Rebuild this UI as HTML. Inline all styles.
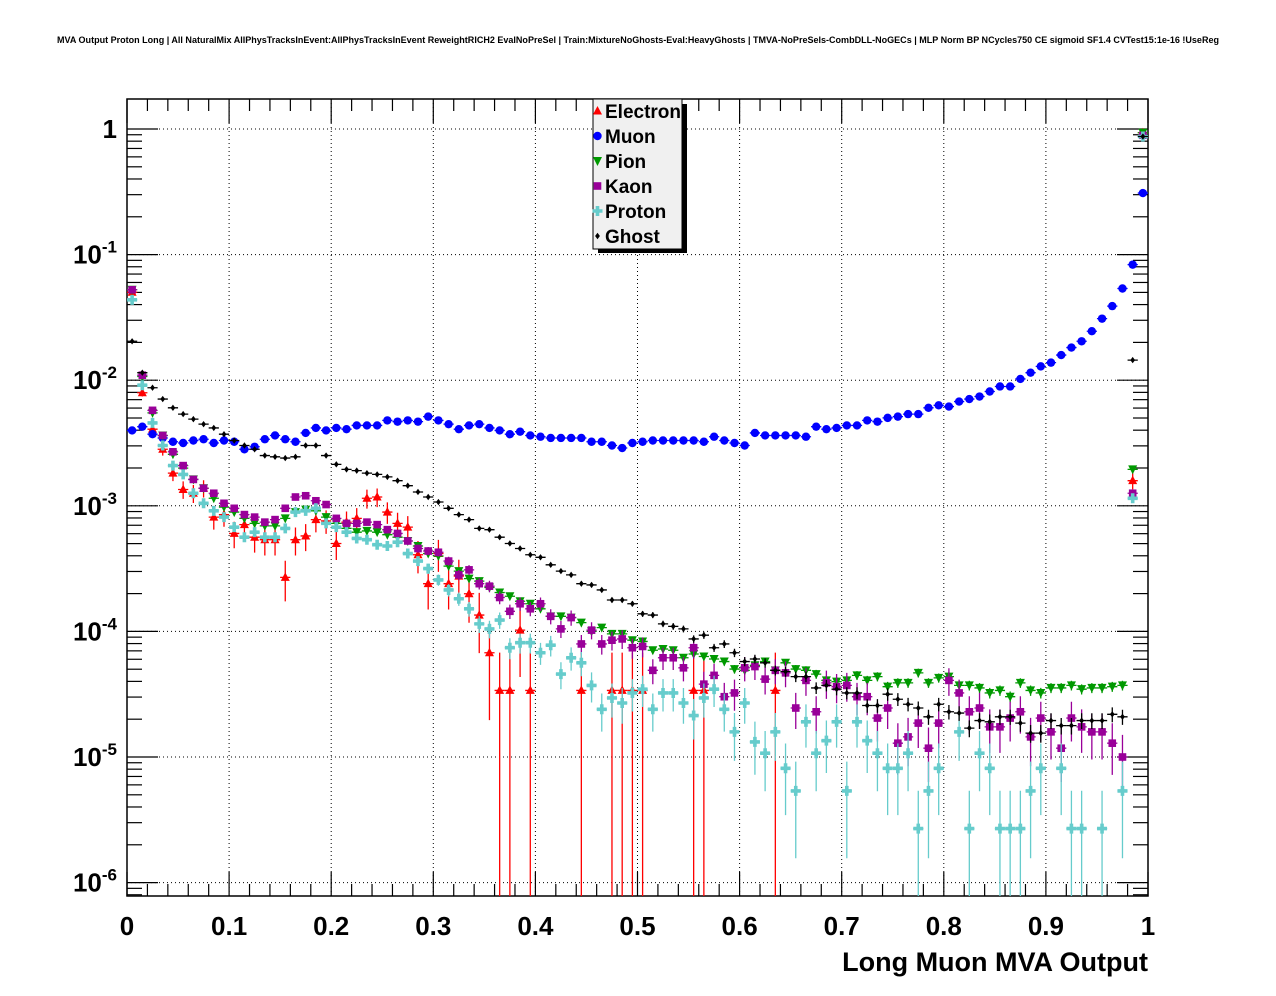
<!DOCTYPE html>
<html><head><meta charset="utf-8"><style>
html,body{margin:0;padding:0;background:#fff;}
svg{display:block;font-family:"Liberation Sans",Arial,sans-serif;}
</style></head><body>
<svg id="chart" width="1276" height="996" viewBox="0 0 1276 996" xmlns="http://www.w3.org/2000/svg">
<rect x="0" y="0" width="1276" height="996" fill="#fff"/>
<text x="57" y="43" font-size="9" font-weight="bold" textLength="1162" lengthAdjust="spacingAndGlyphs">MVA Output Proton Long | All NaturalMix AllPhysTracksInEvent:AllPhysTracksInEvent ReweightRICH2 EvalNoPreSel | Train:MixtureNoGhosts-Eval:HeavyGhosts | TMVA-NoPreSels-CombDLL-NoGECs | MLP Norm BP NCycles750 CE sigmoid SF1.4 CVTest15:1e-16 !UseReg</text>
<g id="grid"></g>
<g id="axes"></g>
<g id="series"></g>
<text x="1148" y="971" font-size="27" font-weight="bold" text-anchor="end">Long Muon MVA Output</text>
<g id="legend"></g>
</svg>
<script>
// Data: log10 of normalised bin content, 100 bins over [0,1]
const xTickLabels = ["0","0.1","0.2","0.3","0.4","0.5","0.6","0.7","0.8","0.9","1"];
const yDecades = [0,-1,-2,-3,-4,-5,-6];
const seriesNames = ["Electron","Muon","Pion","Kaon","Proton","Ghost"];
const electronLog = [-1.30,-2.10,-2.39,-2.55,-2.74,-2.87,-2.90,-2.86,-3.09,-3.07,
-3.22,-3.15,-3.25,-3.27,-3.27,-3.57,-3.27,-3.24,-3.11,-3.12,
-3.30,-3.13,-3.10,-2.94,-2.93,-3.05,-3.14,-3.17,-3.39,-3.62,
-3.38,-3.62,-3.56,-3.70,-3.87,-4.17,-4.47,-4.47,-3.99,-4.47,
null,null,null,null,-4.47,null,null,-4.47,-4.47,-4.47,
-4.47,null,null,null,null,-4.47,-4.47,null,null,null,
null,null,null,-4.47,null,null,null,null,null,null,
null,null,null,null,null,null,null,null,null,null,
null,null,null,null,null,null,null,null,null,null,
null,null,null,null,null,null,null,null,-2.80,-0.03];
const muonLog = [-2.40,-2.37,-2.43,-2.46,-2.49,-2.50,-2.48,-2.47,-2.50,-2.48,
-2.49,-2.55,-2.53,-2.47,-2.44,-2.47,-2.49,-2.42,-2.38,-2.40,
-2.38,-2.39,-2.36,-2.36,-2.36,-2.32,-2.33,-2.32,-2.33,-2.29,
-2.32,-2.35,-2.39,-2.36,-2.35,-2.38,-2.40,-2.43,-2.41,-2.44,
-2.45,-2.46,-2.46,-2.46,-2.46,-2.49,-2.49,-2.52,-2.54,-2.50,
-2.49,-2.48,-2.48,-2.48,-2.48,-2.48,-2.49,-2.45,-2.48,-2.50,
-2.52,-2.42,-2.44,-2.44,-2.44,-2.44,-2.45,-2.37,-2.39,-2.38,
-2.36,-2.36,-2.32,-2.33,-2.30,-2.29,-2.27,-2.27,-2.22,-2.20,
-2.21,-2.17,-2.15,-2.13,-2.09,-2.05,-2.05,-1.99,-1.94,-1.89,
-1.86,-1.80,-1.74,-1.69,-1.61,-1.51,-1.41,-1.27,-1.08,-0.51];
const pionLog = [-1.28,-1.97,-2.26,-2.44,-2.59,-2.70,-2.79,-2.86,-2.94,-3.01,
-3.05,-3.10,-3.14,-3.16,-3.16,-3.10,-3.05,-3.03,-3.04,-3.09,
-3.14,-3.18,-3.21,-3.20,-3.21,-3.23,-3.25,-3.28,-3.32,-3.38,
-3.40,-3.48,-3.52,-3.58,-3.60,-3.65,-3.69,-3.72,-3.76,-3.78,
-3.82,-3.88,-3.88,-3.89,-3.93,-4.00,-3.97,-4.02,-4.02,-4.07,
-4.08,-4.15,-4.14,-4.15,-4.21,-4.18,-4.20,-4.22,-4.24,-4.30,
-4.31,-4.27,-4.24,-4.31,-4.25,-4.30,-4.31,-4.34,-4.39,-4.40,
-4.39,-4.35,-4.39,-4.36,-4.44,-4.41,-4.41,-4.33,-4.41,-4.37,
-4.36,-4.43,-4.43,-4.45,-4.49,-4.47,-4.52,-4.41,-4.47,-4.49,
-4.45,-4.45,-4.43,-4.46,-4.45,-4.45,-4.44,-4.43,-2.71,-0.03];
const kaonLog = [-1.28,-1.96,-2.24,-2.44,-2.57,-2.68,-2.79,-2.86,-2.90,-2.98,
-3.02,-3.07,-3.09,-3.13,-3.11,-3.02,-2.93,-2.92,-2.96,-2.99,
-3.10,-3.14,-3.14,-3.13,-3.15,-3.19,-3.22,-3.28,-3.34,-3.36,
-3.37,-3.44,-3.55,-3.51,-3.62,-3.64,-3.73,-3.84,-3.78,-3.82,
-3.78,-3.88,-3.98,-3.89,-4.10,-3.99,-4.10,-4.07,-4.06,-4.13,
-4.12,-4.31,-4.21,-4.21,-4.29,-4.13,-4.42,-4.35,-4.52,-4.49,
-4.29,-4.28,-4.38,-4.31,-4.33,-4.61,-4.39,-4.64,-4.41,-4.44,
-4.43,-4.52,-4.52,-4.69,-4.61,-4.89,-4.84,-4.73,-4.93,-4.73,
-4.39,-4.49,-4.64,-4.61,-4.76,-4.76,-4.69,-4.64,-4.84,-4.69,
-4.80,-4.93,-4.69,-4.76,-4.80,-4.80,-4.89,-5.00,-2.90,-0.05];
const protonLog = [-1.36,-2.04,-2.34,-2.52,-2.68,-2.75,-2.90,-2.98,-3.04,-3.09,
-3.17,-3.25,-3.21,-3.25,-3.25,-3.18,-3.05,-3.04,-3.02,-3.14,
-3.17,-3.21,-3.26,-3.27,-3.31,-3.32,-3.29,-3.38,-3.44,-3.50,
-3.59,-3.67,-3.74,-3.82,-3.94,-3.98,-3.91,-4.13,-4.09,-4.09,
-4.17,-4.11,-4.34,-4.21,-4.25,-4.43,-4.62,-4.53,-4.57,-4.49,
-4.46,-4.62,-4.49,-4.49,-4.57,-4.67,-4.53,-4.46,-4.62,-4.80,
-4.57,-4.88,-4.97,-4.80,-5.09,-5.27,-4.72,-4.97,-4.87,-4.72,
-5.27,-4.72,-4.87,-4.97,-5.09,-5.09,-4.97,-5.57,-5.27,-5.09,
null,-4.80,-5.57,-4.97,-5.09,-5.57,-5.57,-5.57,-5.27,-5.09,
null,-5.09,-5.57,-5.57,null,-5.57,null,-5.27,-2.94,-0.06];
const ghostLog = [-1.69,-1.94,-2.06,-2.15,-2.22,-2.27,-2.31,-2.35,-2.38,-2.43,
-2.48,-2.52,-2.55,-2.60,-2.61,-2.62,-2.61,-2.52,-2.52,-2.60,
-2.67,-2.71,-2.72,-2.74,-2.75,-2.77,-2.80,-2.84,-2.89,-2.93,
-2.97,-3.02,-3.07,-3.11,-3.18,-3.19,-3.25,-3.30,-3.34,-3.39,
-3.41,-3.47,-3.52,-3.55,-3.62,-3.63,-3.67,-3.75,-3.75,-3.78,
-3.86,-3.87,-3.94,-3.96,-3.98,-4.06,-4.03,-4.13,-4.10,-4.17,
-4.24,-4.22,-4.25,-4.31,-4.32,-4.36,-4.36,-4.45,-4.43,-4.46,
-4.49,-4.49,-4.59,-4.59,-4.50,-4.54,-4.58,-4.61,-4.68,-4.58,
-4.64,-4.65,-4.77,-4.71,-4.72,-4.68,-4.68,-4.73,-4.81,-4.81,
-4.71,-4.75,-4.75,-4.71,-4.71,-4.71,-4.66,-4.68,-1.84,-0.06];
// per-entry weights (value of a single entry), used for error bars
const entryWeights = [3.4e-5, 1e-8, 3e-7, 2.5e-6, 2.7e-6, 4e-7];

const NS = "http://www.w3.org/2000/svg";
const X0 = 127, X1 = 1148, Y0 = 99, Y1 = 896;
const xPix = v => X0 + v * (X1 - X0);
const yPix = e => 129 - e * 125.6;
function mk(tag, attrs, parent){ const el = document.createElementNS(NS, tag); for (const k in attrs) el.setAttribute(k, attrs[k]); parent.appendChild(el); return el; }

const grid = document.getElementById('grid');
const axes = document.getElementById('axes');
const seriesG = document.getElementById('series');
const legend = document.getElementById('legend');

// grid
for (let i = 1; i < xTickLabels.length - 1; i++) {
  const l = mk('line', {x1: xPix(i/10), x2: xPix(i/10), y1: Y0, y2: Y1, stroke: '#000', 'stroke-width': 1, 'stroke-dasharray': '1,3'}, grid);
  
  
}
yDecades.forEach(d => {
  const l = mk('line', {x1: X0, x2: X1, y1: yPix(d), y2: yPix(d), stroke: '#000', 'stroke-width': 1, 'stroke-dasharray': '1,3'}, grid);
  
  
});

// frame
const fr = mk('rect', {x: X0, y: Y0, width: X1 - X0, height: Y1 - Y0, fill: 'none', stroke: '#000', 'stroke-width': 1.5}, axes);



// x ticks
for (let i = 0; i <= 50; i++) {
  const x = xPix(i / 50), len = (i % 5 === 0) ? 24 : 12;
  mk('line', {x1: x, x2: x, y1: Y1, y2: Y1 - len, stroke: '#000', 'stroke-width': 1.2}, axes);
  mk('line', {x1: x, x2: x, y1: Y0, y2: Y0 + len, stroke: '#000', 'stroke-width': 1.2}, axes);
}
xTickLabels.forEach((t, i) => {
  const tx = mk('text', {x: xPix(i/10), y: 935, 'font-size': 26, 'font-weight': 'bold', 'text-anchor': 'middle'}, axes);
  tx.textContent = t;
  
  
});
// y ticks
for (let d = 0; d >= -7; d--) {
  for (let m = 1; m <= 9; m++) {
    const e = d + Math.log10(m), y = yPix(e);
    if (y < Y0 || y > Y1) continue;
    const len = m === 1 ? 31 : 15;
    mk('line', {x1: X0, x2: X0 + len, y1: y, y2: y, stroke: '#000', 'stroke-width': 1.2}, axes);
    mk('line', {x1: X1, x2: X1 - len, y1: y, y2: y, stroke: '#000', 'stroke-width': 1.2}, axes);
  }
}
yDecades.forEach(d => {
  const y = yPix(d);
  const tx = mk('text', {x: 117, y: y + 9, 'font-size': 26, 'font-weight': 'bold', 'text-anchor': 'end'}, axes);
  
  
  if (d === 0) { tx.textContent = '1'; }
  else {
    const b = document.createElementNS(NS, 'tspan'); b.textContent = '10'; tx.appendChild(b);
    const s = document.createElementNS(NS, 'tspan'); s.setAttribute('dy', -11); s.setAttribute('font-size', 17); s.textContent = String(d); tx.appendChild(s);
  }
});

// markers
const colors = ['#ff0000', '#0000ff', '#009900', '#990099', '#66cccc', '#000000'];
function marker(kind, x, y, c, parent) {
  let el;
  if (kind === 0) el = mk('polygon', {points: `${x},${y-5} ${x-4.5},${y+3.5} ${x+4.5},${y+3.5}`, fill: c}, parent);
  else if (kind === 1) el = mk('circle', {cx: x, cy: y, r: 4.2, fill: c}, parent);
  else if (kind === 2) el = mk('polygon', {points: `${x-4.5},${y-4} ${x+4.5},${y-4} ${x},${y+5}`, fill: c}, parent);
  else if (kind === 3) el = mk('rect', {x: x-3.8, y: y-3.8, width: 7.6, height: 7.6, fill: c}, parent);
  else if (kind === 4) el = mk('path', {d: `M${x-1.8},${y-5}h3.6v3.2h3.2v3.6h-3.2v3.2h-3.6v-3.2h-3.2v-3.6h3.2z`, fill: c}, parent);
  else el = mk('path', {d: `M${x},${y-3.2}L${x+2.4},${y}L${x},${y+3.2}L${x-2.4},${y}z`, fill: c}, parent);
  return el;
}
const allSeries = [electronLog, muonLog, pionLog, kaonLog, protonLog, ghostLog];
const bw = (X1 - X0) / 100;
allSeries.forEach((arr, s) => {
  const g = mk('g', {}, seriesG);
  
  
  const c = colors[s];
  arr.forEach((e, i) => {
    if (e === null) return;
    const v = Math.pow(10, e), sig = Math.sqrt(entryWeights[s] * v);
    const x = X0 + (i + 0.5) * bw, y = yPix(e);
    const yt = Math.max(Y0, yPix(Math.log10(v + sig)));
    const yb = (v - sig) <= v * 1e-3 ? Y1 : Math.min(Y1, yPix(Math.log10(v - sig)));
    const eb = mk('path', {d: `M${x},${yt}V${yb}M${x - bw/2},${y}H${x + bw/2}`, stroke: c, 'stroke-width': 1.3, fill: 'none'}, g);
    
    
    const m = marker(s, x, y, c, g);
    
    
  });
});

// legend
const sh = mk('rect', {x: 598, y: 104, width: 89, height: 149, fill: '#000'}, legend);


const lb = mk('rect', {x: 593, y: 99, width: 89, height: 150, fill: '#f0f0f0', stroke: '#000', 'stroke-width': 1}, legend);


seriesNames.forEach((n, s) => {
  const y = 111 + s * 25;
  const g = mk('g', {}, legend);
  
  
  marker(s, 597.5, y, colors[s], g);
  const t = mk('text', {x: 605, y: y + 7, 'font-size': 19, 'font-weight': 'bold'}, g);
  t.textContent = n;
});
</script>
</body></html>
